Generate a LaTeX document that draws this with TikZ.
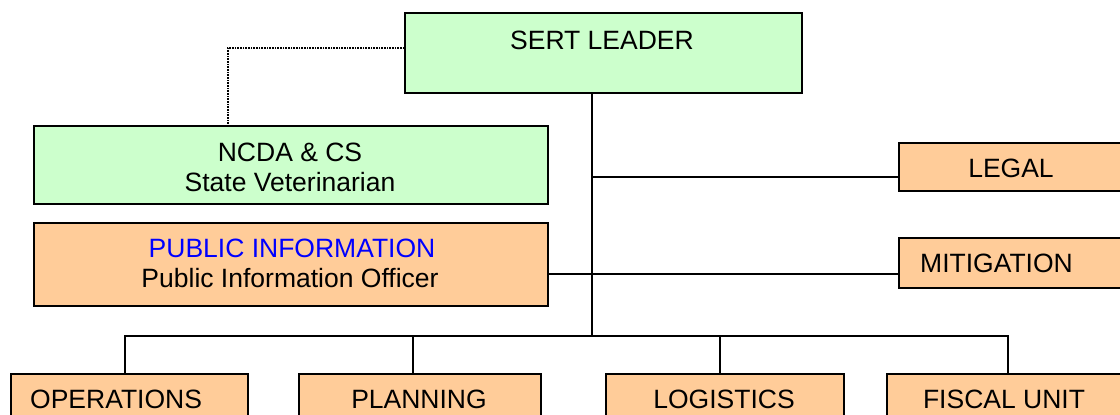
\documentclass[tikz,border=0pt]{standalone}
\usepackage{fontspec}
\setmainfont{Liberation Sans}
\definecolor{boxgreen}{HTML}{CCFFCC}
\definecolor{boxorange}{HTML}{FFCC99}
\definecolor{titleblue}{HTML}{0000FF}
\begin{document}
\begin{tikzpicture}[x=1pt,y=-1pt,
  box/.style={draw=black,line width=1.6pt,anchor=north west,inner sep=0pt},
  greenbox/.style={box,fill=boxgreen},
  orangebox/.style={box,fill=boxorange},
  lbl/.style={inner sep=0pt,font=\fontsize{26.5}{30}\selectfont},
  link/.style={draw=black,line width=1.2pt},
  dotlink/.style={draw=black,line width=1.2pt,dash pattern=on 1pt off 0.6pt}]
\useasboundingbox (0,0) rectangle (1120,415);
\clip (0,0) rectangle (1120,415);
% boxes
\node[greenbox,minimum width=397pt,minimum height=80pt] (sert) at (404,12) {};
\node[greenbox,minimum width=514pt,minimum height=78pt] (ncda) at (33,125) {};
\node[orangebox,minimum width=514pt,minimum height=83pt] (pio) at (33,222) {};
\node[orangebox,minimum width=260pt,minimum height=48pt] (legal) at (898,142) {};
\node[orangebox,minimum width=260pt,minimum height=50pt] (mitig) at (898,237) {};
\node[orangebox,minimum width=237pt,minimum height=70pt] (ops) at (10,373) {};
\node[orangebox,minimum width=242pt,minimum height=70pt] (plan) at (298,373) {};
\node[orangebox,minimum width=238pt,minimum height=70pt] (logi) at (605,373) {};
\node[orangebox,minimum width=260pt,minimum height=70pt] (fisc) at (886,373) {};
% texts
\node[lbl] (sertT) at (602,40) {SERT LEADER};
\node[lbl] (ncdaA) at (290,152) {NCDA \& CS};
\node[lbl] (ncdaB) at (290,182) {State Veterinarian};
\node[lbl,text=titleblue] (pioA) at (292,248) {PUBLIC INFORMATION};
\node[lbl] (pioB) at (290,278) {Public Information Officer};
\node[lbl] (legalT) at (1011,168) {LEGAL};
\node[lbl,anchor=west] (mitigT) at (920,263) {MITIGATION};
\node[lbl,anchor=west] (opsT) at (30,399) {OPERATIONS};
\node[lbl] (planT) at (419,399) {PLANNING};
\node[lbl] (logiT) at (724,399) {LOGISTICS};
\node[lbl] (fiscT) at (1004,399) {FISCAL UNIT};
% connectors
\coordinate (bus) at (592,336);
\draw[dotlink] (sert.west |- 0,48) -| (228,125);
\draw[link] (sert.south -| bus) -- (bus);
\draw[link] (592,177) -- (legal.west |- 0,177);
\draw[link] (pio.east |- 0,274) -- (mitig.west |- 0,274);
\draw[link] (125,373) |- (1008,336) -- (1008,373);
\draw[link] (413,336) -- (413,373);
\draw[link] (720,336) -- (720,373);
\end{tikzpicture}
\end{document}
